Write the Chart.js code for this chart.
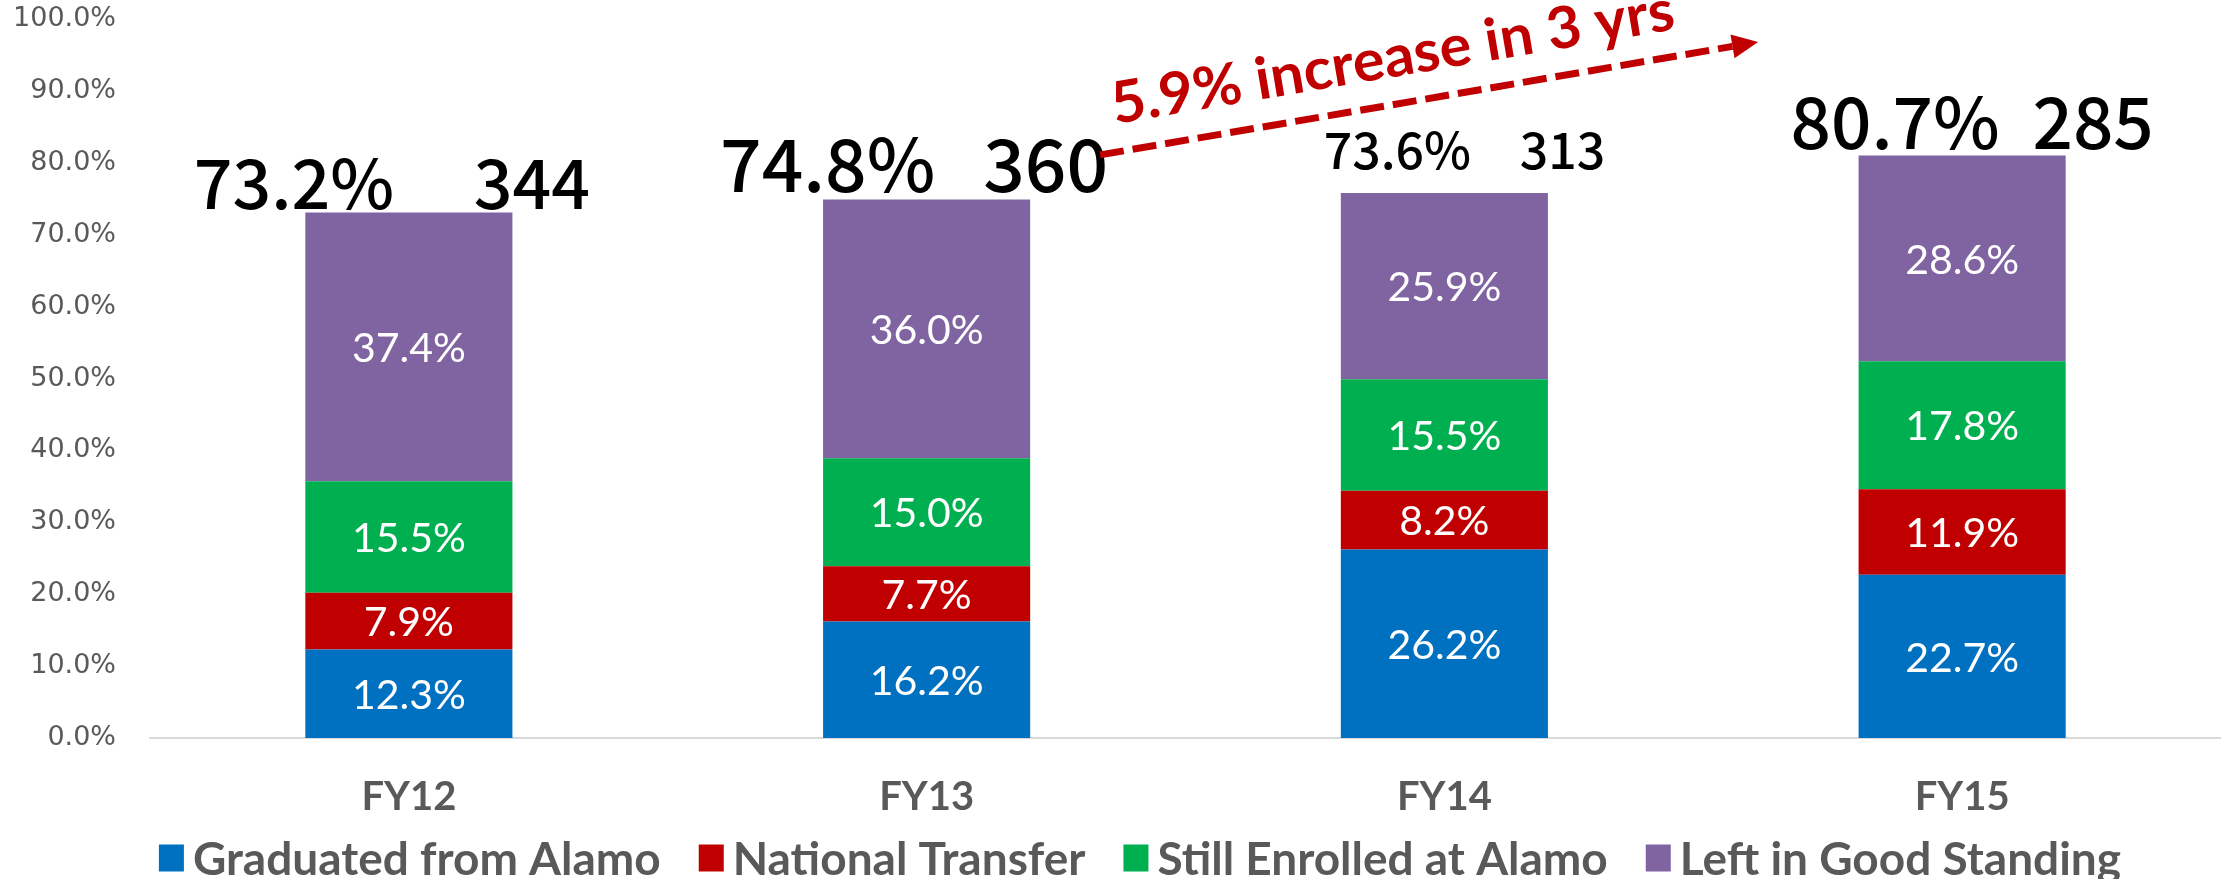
<!DOCTYPE html>
<html>
<head>
<meta charset="utf-8">
<title>Cohort outcomes</title>
<script src="https://cdn.jsdelivr.net/npm/chart.js@4.4.1/dist/chart.umd.min.js"></script>
<style>
    html, body { margin: 0; padding: 0; background: #ffffff; }
    #wrap { position: relative; width: 2221px; height: 879px; }
</style>
</head>
<body>
<div id="wrap"><canvas id="outcomeChart"></canvas></div>
<script>
const years = ['FY12', 'FY13', 'FY14', 'FY15'];
const graduated = [12.3, 16.2, 26.2, 22.7];
const nationalTransfer = [7.9, 7.7, 8.2, 11.9];
const stillEnrolled = [15.5, 15.0, 15.5, 17.8];
const leftGoodStanding = [37.4, 36.0, 25.9, 28.6];
const cohortRate = ['73.2%', '74.8%', '73.6%', '80.7%'];
const cohortSize = ['344', '360', '313', '285'];
const trendNote = '5.9% increase in 3 yrs';

// header text boxes above each bar (sizes / nudges in px)
const headStyle = [
    { size: 68, pctDx: -115, cntDx: 123, lift: 3 },
    { size: 73, pctDx: -99, cntDx: 119, lift: 7 },
    { size: 50, pctDx: -47, cntDx: 118, lift: 24 },
    { size: 71, pctDx: -67, cntDx: 131, lift: 7 },
];

// arrow in data space: [category index, percent]
const arrowFrom = [1.335, 81.1];
const arrowTo = [2.606, 96.8];
const noteAt = [1.906, 92.0];

const GRAY = '#595959';
const RED = '#C00000';

function fmtPct(v) {
    return `${v.toFixed(1)}%`;
}

const overlayPlugin = {
    id: 'overlay',
    afterDatasetsDraw(chart) {
        const { ctx } = chart;
        const xs = chart.scales.x;
        const ys = chart.scales.y;

        ctx.save();

        // values inside the segments
        ctx.font = '41px Lato';
        ctx.fillStyle = '#ffffff';
        ctx.textAlign = 'center';
        ctx.textBaseline = 'middle';
        chart.data.datasets.forEach((ds, di) => {
            chart.getDatasetMeta(di).data.forEach((bar, i) => {
                ctx.fillText(fmtPct(ds.data[i]), bar.x, (bar.y + bar.base) / 2 + 2);
            });
        });

        // rate + cohort size above each bar
        const tops = chart.getDatasetMeta(chart.data.datasets.length - 1).data;
        ctx.fillStyle = '#000000';
        ctx.textBaseline = 'alphabetic';
        tops.forEach((bar, i) => {
            const s = headStyle[i];
            ctx.font = `500 ${s.size}px "Noto Sans CJK JP"`;
            ctx.fillText(cohortRate[i], bar.x + s.pctDx, bar.y - s.lift);
            ctx.fillText(cohortSize[i], bar.x + s.cntDx, bar.y - s.lift);
        });

        // dashed trend arrow
        const x0 = xs.getPixelForValue(arrowFrom[0]);
        const y0 = ys.getPixelForValue(arrowFrom[1]);
        const x1 = xs.getPixelForValue(arrowTo[0]);
        const y1 = ys.getPixelForValue(arrowTo[1]);
        const ang = Math.atan2(y1 - y0, x1 - x0);
        const head = 26;
        const cos = Math.cos(ang);
        const sin = Math.sin(ang);

        ctx.strokeStyle = RED;
        ctx.fillStyle = RED;
        ctx.lineWidth = 7;
        ctx.setLineDash([24, 9]);
        ctx.beginPath();
        ctx.moveTo(x0, y0);
        ctx.lineTo(x1 - cos * head, y1 - sin * head);
        ctx.stroke();
        ctx.setLineDash([]);

        ctx.beginPath();
        ctx.moveTo(x1, y1);
        ctx.lineTo(x1 - cos * head + sin * 12, y1 - sin * head - cos * 12);
        ctx.lineTo(x1 - cos * head - sin * 12, y1 - sin * head + cos * 12);
        ctx.closePath();
        ctx.fill();

        // note along the arrow
        ctx.font = 'bold 58px Lato';
        const noteWidth = 570;
        const sx = noteWidth / ctx.measureText(trendNote).width;
        ctx.translate(xs.getPixelForValue(noteAt[0]), ys.getPixelForValue(noteAt[1]));
        ctx.rotate(-9.6 * Math.PI / 180);
        ctx.scale(sx, 1);
        ctx.textAlign = 'center';
        ctx.fillText(trendNote, 0, 0);
        ctx.setTransform(1, 0, 0, 1, 0, 0);

        // legend row
        const box = 27;
        const gap = 7;
        const spacing = 38;
        const legendMid = 1140;
        const legendY = 858;
        ctx.font = 'bold 46px Lato';
        ctx.textAlign = 'left';
        ctx.textBaseline = 'middle';
        const items = chart.data.datasets.map((ds) => ({
            text: ds.label,
            color: ds.backgroundColor,
            w: ctx.measureText(ds.label).width,
        }));
        const total = items.reduce((acc, it) => acc + box + gap + it.w, 0) + spacing * (items.length - 1);
        let cx = legendMid - total / 2;
        items.forEach((it) => {
            ctx.fillStyle = it.color;
            ctx.fillRect(cx, legendY - box / 2, box - 2, box);
            ctx.fillStyle = GRAY;
            ctx.fillText(it.text, cx + box + gap, legendY + 2);
            cx += box + gap + it.w + spacing;
        });

        ctx.restore();
    },
};

const outcomeChart = new Chart(document.getElementById('outcomeChart'), {
    type: 'bar',
    data: {
        labels: years,
        datasets: [
            { label: 'Graduated from Alamo', data: graduated, backgroundColor: '#0070C0' },
            { label: 'National Transfer', data: nationalTransfer, backgroundColor: '#C00000' },
            { label: 'Still Enrolled at Alamo', data: stillEnrolled, backgroundColor: '#00B050' },
            { label: 'Left in Good Standing', data: leftGoodStanding, backgroundColor: '#8064A2' },
        ],
    },
    options: {
        responsive: true,
        maintainAspectRatio: false,
        animation: false,
        datasets: {
            bar: {
                barPercentage: 0.4,
                categoryPercentage: 1,
                borderWidth: 0,
            },
        },
        layout: { padding: { top: 19, left: 0, right: 0, bottom: 0 } },
        plugins: {
            legend: { display: false },
            tooltip: { enabled: false },
        },
        scales: {
            x: {
                stacked: true,
                grid: { display: false, drawTicks: false },
                border: { display: true, color: '#D9D9D9', width: 2 },
                ticks: {
                    color: GRAY,
                    padding: 35,
                    font: { family: 'Lato', weight: 'bold', size: 40 },
                },
                afterFit: (scale) => { scale.height = 141; },
            },
            y: {
                stacked: true,
                min: 0,
                max: 100,
                grid: { display: false, drawTicks: false },
                border: { display: false },
                ticks: {
                    stepSize: 10,
                    color: GRAY,
                    padding: 34,
                    font: { family: 'DejaVu Sans', size: 27 },
                    callback: (value) => fmtPct(value),
                },
                afterFit: (scale) => {
                    scale.width = 150;
                    // tick padding would otherwise push the plot top down
                    scale.paddingTop = 0;
                    scale.paddingBottom = 0;
                },
            },
        },
    },
    plugins: [overlayPlugin],
});
</script>
</body>
</html>
